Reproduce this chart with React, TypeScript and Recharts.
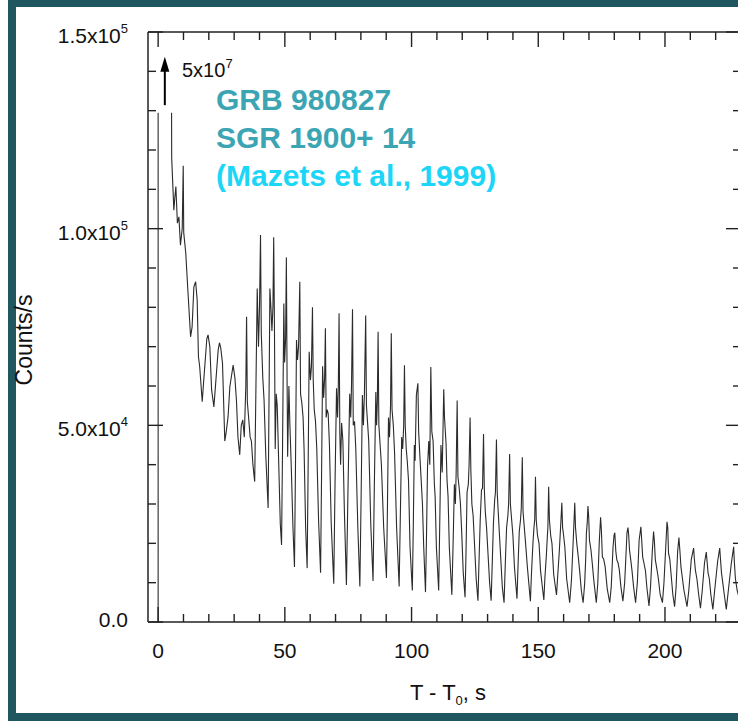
import React from 'react';
import { LineChart, Line, XAxis, YAxis, ReferenceLine } from 'recharts';

type Pt = [number, number | null];

// Count rate (counts/s) versus T - T0 (s).
const onsetSpike: Pt[] = [[0, 0], [0, 129500], [0.05, null]];

const earlyDecay: Pt[] = [
  [5.3, 129500], [5.35, 118000], [6.2, 104700], [6.6, 108000], [7.0, 110700], [7.3, 106000],
  [7.6, 101400], [8.2, 103000], [8.8, 95800], [9.5, 100000], [9.9, 116000], [10.1, 99000],
  [10.5, 96400], [10.9, 93800], [11.8, 83600], [12.8, 72500], [13.4, 75000], [14.1, 85200],
  [14.8, 86500], [15.4, 81900], [15.9, 67500], [16.4, 64900], [17.4, 56000], [18.0, 61500],
  [18.8, 68400], [19.2, 72000], [19.7, 73000], [20.4, 70000], [21.1, 59000], [22.0, 54700],
  [22.8, 61500], [23.7, 69200], [24.2, 71000], [24.7, 69700], [25.4, 65800], [26.3, 46000],
  [26.8, 48000], [27.6, 52200], [28.3, 59800], [29.0, 62800], [29.6, 65300], [30.3, 62000],
  [30.9, 56400], [31.5, 47000], [32.2, 42500], [32.8, 50000], [33.4, 51400], [34.0, 47000],
  [34.6, 60000], [34.9, 77600], [35.2, 56000], [35.7, 52000], [36.3, 47000], [36.8, 46000],
  [37.4, 40000], [38.1, 35700],
];

const pulses38to100: Pt[] = [
  [38.6, 60000], [39.1, 84800], [39.6, 70000], [40.0, 80000], [40.4, 98400], [40.7, 73400], [41.3, 62000], [41.8, 56400], [42.5, 42000], [43.4, 29000],
  [43.8, 60000], [44.1, 84800], [44.5, 80000], [44.9, 74000], [45.3, 80000], [45.6, 97800], [45.9, 75000], [46.2, 44000], [46.6, 58000], [47.0, 55000], [47.6, 40000], [48.2, 25000], [48.7, 19600],
  [49.1, 45000], [49.6, 81000], [49.9, 66000], [50.3, 72000], [50.6, 92700], [50.9, 60000], [51.1, 42000], [51.6, 60000], [52.0, 50000], [52.6, 38000], [53.2, 24000], [53.8, 14000],
  [54.2, 40000], [54.6, 71700], [55.0, 66600], [55.4, 70000], [55.9, 86500], [56.2, 58000], [56.7, 55700], [57.2, 52000], [57.6, 43700], [58.2, 24000], [58.8, 13700],
  [59.2, 40000], [59.6, 68700], [60.1, 61500], [60.5, 65000], [60.9, 80000], [61.2, 61500], [61.6, 54000], [62.1, 51000], [62.6, 44000], [63.3, 26000], [64.1, 12500],
  [64.5, 38000], [64.9, 65000], [65.3, 57000], [65.7, 62000], [66.0, 74700], [66.3, 52000], [66.7, 54000], [67.1, 53000], [67.6, 45000], [68.3, 25000], [69.3, 9700],
  [69.8, 35000], [70.4, 59400], [70.8, 52000], [71.1, 60000], [71.4, 78500], [71.7, 48000], [72.0, 40000], [72.4, 50600], [72.9, 46000], [73.5, 28000], [74.3, 9400],
  [74.9, 33000], [75.6, 58000], [76.0, 52000], [76.3, 60000], [76.7, 79500], [77.0, 50000], [77.5, 51000], [78.0, 44000], [78.8, 24000], [79.6, 9000],
  [80.1, 32000], [80.6, 57700], [81.0, 50000], [81.4, 58000], [81.9, 77900], [82.2, 55000], [82.6, 51000], [83.1, 46000], [83.9, 25000], [84.8, 10400],
  [85.3, 34000], [85.9, 58500], [86.2, 50000], [86.5, 56000], [86.8, 73800], [87.1, 50000], [87.6, 45000], [88.1, 40000], [89.0, 24000], [90.1, 11200],
  [90.5, 30000], [90.9, 52000], [91.3, 47000], [91.7, 55000], [92.0, 73400], [92.3, 54000], [92.8, 50000], [93.3, 43000], [94.1, 24000], [95.1, 9000],
  [95.6, 28000], [96.1, 47000], [96.5, 44000], [96.9, 50000], [97.2, 65300], [97.5, 50000], [97.9, 44000], [98.3, 41000], [98.8, 36000], [99.4, 19000], [100.3, 8000],
];

const pulses100to162: Pt[] = [
  [100.7, 25000], [101.1, 45000], [101.4, 41000], [101.9, 57700], [102.5, 60700], [102.8, 48400], [103.3, 42000], [103.8, 36000], [104.3, 30000], [104.8, 19000], [105.5, 7600],
  [105.9, 22000], [106.3, 39500], [106.8, 46000], [107.2, 40000], [107.6, 64800], [108.0, 48400], [108.5, 46000], [109.0, 35000], [109.3, 32000], [109.8, 19000], [110.7, 8000],
  [111.1, 24000], [111.6, 45000], [112.1, 38000], [112.7, 59200], [113.0, 52000], [113.6, 45500], [114.0, 36000], [114.4, 32000], [114.9, 19000], [115.9, 6900],
  [116.4, 20000], [116.9, 35000], [117.3, 30000], [117.6, 38000], [118.0, 56300], [118.3, 37000], [118.8, 34000], [119.3, 30000], [119.8, 22600], [120.4, 12500], [121.1, 6300],
  [121.5, 18000], [121.9, 33000], [122.4, 35000], [122.7, 40000], [123.1, 52000], [123.4, 38600], [123.8, 30000], [124.3, 27000], [124.9, 19000], [125.5, 11000], [126.2, 5400],
  [126.6, 15000], [127.1, 26000], [127.6, 33600], [128.0, 34000], [128.4, 47800], [128.7, 34000], [129.1, 28000], [129.6, 24000], [130.2, 17000], [130.8, 10000], [131.4, 5400],
  [131.8, 14000], [132.3, 25000], [132.8, 31000], [133.1, 33000], [133.5, 46400], [133.8, 33000], [134.2, 28000], [134.7, 22000], [135.3, 15000], [135.8, 9000], [136.5, 4900],
  [137.0, 15000], [137.5, 24000], [138.0, 27000], [138.3, 30000], [138.7, 42700], [139.0, 30000], [139.5, 26000], [140.0, 22000], [140.6, 14000], [141.6, 5900],
  [142.0, 14000], [142.5, 23000], [143.0, 26000], [143.3, 29000], [143.7, 41900], [144.0, 28000], [144.5, 24000], [145.0, 20000], [145.7, 14000], [146.9, 5300],
  [147.3, 12000], [147.9, 20000], [148.3, 24000], [148.6, 26000], [148.9, 36900], [149.2, 26000], [149.7, 22000], [150.3, 20000], [150.9, 13000], [152.2, 5600],
  [152.6, 11000], [153.2, 17000], [153.6, 22000], [153.8, 24000], [154.1, 34400], [154.4, 26000], [154.9, 22000], [155.4, 20000], [156.1, 12000], [157.2, 6900],
  [157.7, 12000], [158.3, 18000], [158.8, 24000], [159.3, 30300], [159.6, 24000], [160.0, 22000], [160.5, 19000], [161.2, 11000], [162.4, 4900],
];

const pulses162to230: Pt[] = [
  [163.1, 10700], [163.8, 20800], [164.4, 30300], [164.7, 24000], [165.2, 20000], [165.8, 16500], [166.4, 12500], [167.0, 8000], [167.7, 4900],
  [168.3, 9700], [168.7, 15800], [169.0, 22600], [169.3, 25000], [169.6, 29500], [169.9, 26700], [170.2, 20800], [170.8, 18300], [171.3, 15000], [171.9, 10700], [172.9, 4900],
  [173.5, 10000], [174.1, 20800], [174.6, 26600], [174.9, 23400], [175.3, 16500], [175.8, 16000], [176.4, 14000], [177.2, 8500], [178.2, 4900],
  [178.8, 9000], [179.5, 19000], [179.9, 22000], [180.2, 22700], [180.6, 18000], [181.0, 15800], [181.5, 15000], [182.0, 13200], [182.6, 9000], [183.4, 5300],
  [184.1, 10000], [184.7, 18300], [185.0, 22600], [185.4, 24000], [185.7, 22000], [186.0, 18300], [186.5, 15800], [187.0, 13000], [187.6, 9000], [188.4, 4900],
  [189.1, 10000], [189.8, 20800], [190.5, 24200], [190.8, 21000], [191.2, 16500], [191.7, 15000], [192.3, 13000], [192.9, 8500], [193.7, 4100],
  [194.3, 9000], [195.0, 18000], [195.5, 23000], [195.8, 20800], [196.2, 15800], [196.8, 13500], [197.4, 11000], [198.1, 7000], [199.0, 4900],
  [199.6, 10000], [200.3, 19000], [200.8, 25500], [201.1, 24000], [201.4, 17500], [201.9, 16000], [202.5, 11500], [203.1, 7000], [203.8, 3900],
  [204.4, 9000], [205.0, 18000], [205.5, 21500], [205.9, 18000], [206.3, 14000], [206.8, 11500], [207.5, 8000], [208.7, 3900],
  [209.4, 8000], [210.4, 16000], [211.3, 18800], [211.6, 16000], [212.0, 13200], [212.6, 11000], [213.2, 7500], [214.0, 3500],
  [214.7, 8000], [215.6, 15000], [216.3, 17800], [216.6, 15500], [217.0, 12500], [217.5, 11000], [218.1, 7000], [218.9, 3200],
  [219.6, 8000], [220.8, 15500], [221.6, 18800], [221.9, 16000], [222.3, 12500], [222.8, 10000], [223.4, 7000], [224.2, 3200],
  [225.0, 8000], [226.2, 15000], [227.1, 19100], [227.4, 15000], [227.8, 11000], [228.5, 8000], [229.3, 6000], [230.0, 5000],
];

const xTicks = [0, 10, 20, 30, 40, 50, 60, 70, 80, 90, 100, 110, 120, 130, 140, 150, 160, 170, 180, 190, 200, 210, 220];
const xMajorTicks = [0, 50, 100, 150, 200];
const yTicks = [0, 10000, 20000, 30000, 40000, 50000, 60000, 70000, 80000, 90000, 100000, 110000, 120000, 130000, 140000, 150000];
const yTickLabels: Record<number, [string, string]> = {
  0: ['0.0', ''],
  50000: ['5.0x10', '4'],
  100000: ['1.0x10', '5'],
  150000: ['1.5x10', '5'],
};
const xDomain: [number, number] = [-4, 230];
const yDomain: [number, number] = [0, 150000];
const arrowSegment = [{ x: 2.64, y: 131400 }, { x: 2.64, y: 143700 }];
const peakNote = ['5x10', '7'];
const titleLines = ['GRB 980827', 'SGR 1900+ 14', '(Mazets et al., 1999)'];

const data = [...onsetSpike, ...earlyDecay, ...pulses38to100, ...pulses100to162, ...pulses162to230].map(
  ([t, v]) => ({ t, v })
);

const FONT = '"Liberation Sans", Arial, Helvetica, sans-serif';
const AXIS = '#222';
const TEAL = '#1f5660';

const isMajorX = (v: number) => xMajorTicks.includes(v);

const BottomTick = (props: any) => {
  const { x, y, payload } = props;
  const major = isMajorX(payload.value);
  return (
    <g>
      <line x1={x} y1={y} x2={x} y2={y - (major ? 15 : 8)} stroke={AXIS} strokeWidth={1.4} />
      {major && (
        <text x={x} y={y + 36} textAnchor="middle" fontSize={21} fontFamily={FONT} fill="#111">
          {payload.value}
        </text>
      )}
    </g>
  );
};

const TopTick = (props: any) => {
  const { x, y, payload } = props;
  const major = isMajorX(payload.value);
  return <line x1={x} y1={y} x2={x} y2={y + (major ? 15 : 8)} stroke={AXIS} strokeWidth={1.4} />;
};

const LeftTick = (props: any) => {
  const { x, y, payload } = props;
  const lab = yTickLabels[payload.value];
  const baselineShift = payload.value === 0 ? 5 : 11;
  return (
    <g>
      <line x1={x} y1={y} x2={x + (lab ? 15 : 8)} y2={y} stroke={AXIS} strokeWidth={1.4} />
      {lab && (
        <text x={x - 20} y={y + baselineShift} textAnchor="end" fontSize={21} fontFamily={FONT} fill="#111">
          <tspan>{lab[0]}</tspan>
          {lab[1] && (
            <tspan dy={-10} fontSize={13}>
              {lab[1]}
            </tspan>
          )}
        </text>
      )}
    </g>
  );
};

const RightTick = (props: any) => {
  const { x, y, payload } = props;
  const major = !!yTickLabels[payload.value];
  return <line x1={x} y1={y} x2={x - (major ? 15 : 8)} y2={y} stroke={AXIS} strokeWidth={1.4} />;
};

const ArrowShape = (props: any) => {
  const { x1, y1, x2, y2 } = props;
  const x = (x1 + x2) / 2;
  const top = Math.min(y1, y2);
  const bottom = Math.max(y1, y2);
  return (
    <g>
      <line x1={x} y1={bottom} x2={x} y2={top + 10} stroke="#000" strokeWidth={2} />
      <polygon points={`${x},${top} ${x - 4.5},${top + 15} ${x + 4.5},${top + 15}`} fill="#000" />
    </g>
  );
};

export default function App() {
  return (
    <div style={{ position: 'absolute', left: 0, top: 0, width: 738, height: 721, overflow: 'hidden', background: '#fff' }}>
      <div
        style={{
          position: 'absolute',
          left: 8,
          top: 0,
          width: 800,
          height: 721,
          boxSizing: 'border-box',
          borderLeft: `8px solid ${TEAL}`,
          borderTop: `7px solid ${TEAL}`,
          borderBottom: `8px solid ${TEAL}`,
        }}
      />
      <div style={{ position: 'absolute', left: 0, top: 0 }}>
        <LineChart width={760} height={721} data={data} margin={{ top: 31, right: 18, bottom: 39, left: 0 }}>
          <XAxis
            dataKey="t"
            type="number"
            domain={xDomain}
            ticks={xTicks}
            interval={0}
            tickSize={0}
            tickMargin={0}
            height={60}
            tick={<BottomTick />}
            axisLine={{ stroke: AXIS, strokeWidth: 1.5 }}
            allowDataOverflow
          />
          <XAxis
            xAxisId="top"
            orientation="top"
            dataKey="t"
            type="number"
            domain={xDomain}
            ticks={xTicks}
            interval={0}
            tickSize={0}
            tickMargin={0}
            height={1}
            tick={<TopTick />}
            axisLine={{ stroke: AXIS, strokeWidth: 1.5 }}
            allowDataOverflow
          />
          <YAxis
            type="number"
            domain={yDomain}
            ticks={yTicks}
            interval={0}
            width={148}
            tickSize={0}
            tickMargin={0}
            tick={<LeftTick />}
            axisLine={{ stroke: AXIS, strokeWidth: 1.5 }}
            allowDataOverflow
          />
          <YAxis
            yAxisId="right"
            orientation="right"
            type="number"
            domain={yDomain}
            ticks={yTicks}
            interval={0}
            width={1}
            tickSize={0}
            tickMargin={0}
            tick={<RightTick />}
            axisLine={{ stroke: AXIS, strokeWidth: 1.5 }}
            allowDataOverflow
          />
          <ReferenceLine segment={arrowSegment} shape={ArrowShape} ifOverflow="visible" />
          <Line
            xAxisId="top"
            yAxisId="right"
            dataKey="v"
            type="linear"
            stroke="none"
            strokeWidth={0}
            dot={false}
            activeDot={false}
            legendType="none"
            isAnimationActive={false}
          />
          <Line
            dataKey="v"
            type="linear"
            stroke="#2b2b2b"
            strokeWidth={1.1}
            dot={false}
            activeDot={false}
            connectNulls={false}
            isAnimationActive={false}
          />
        </LineChart>
      </div>
      <svg width={738} height={721} style={{ position: 'absolute', left: 0, top: 0, pointerEvents: 'none' }}>
        <text x={182} y={77} fontSize={20} fontFamily={FONT} fill="#111">
          <tspan>{peakNote[0]}</tspan>
          <tspan dy={-9} fontSize={13}>{peakNote[1]}</tspan>
        </text>
        <text x={216} y={110} fontSize={30} fontWeight="bold" fontFamily={FONT} fill="#3ca5b4">{titleLines[0]}</text>
        <text x={216} y={148} fontSize={30} fontWeight="bold" fontFamily={FONT} fill="#3ca5b4">{titleLines[1]}</text>
        <text x={216} y={186} fontSize={30} fontWeight="bold" fontFamily={FONT} fill="#1dd5f7">{titleLines[2]}</text>
        <text x={448} y={700} textAnchor="middle" fontSize={22} fontFamily={FONT} fill="#111">
          <tspan>T - T</tspan>
          <tspan dy={5} fontSize={13}>0</tspan>
          <tspan dy={-5}>, s</tspan>
        </text>
        <text x={0} y={0} transform="translate(32, 340) rotate(-90)" textAnchor="middle" fontSize={23} fontFamily={FONT} fill="#111">
          Counts/s
        </text>
      </svg>
    </div>
  );
}
